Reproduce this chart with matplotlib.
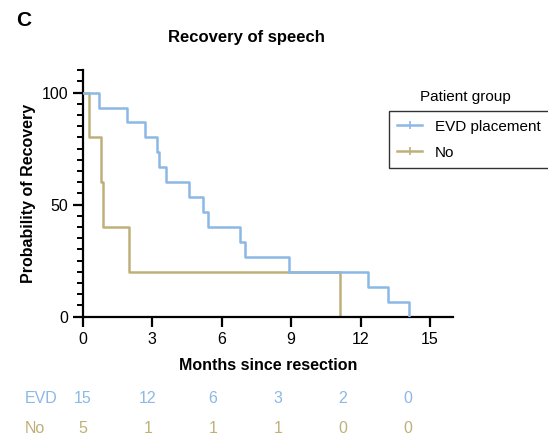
import matplotlib
matplotlib.use("Agg")
import matplotlib.pyplot as plt
from matplotlib.lines import Line2D
from matplotlib.ticker import MultipleLocator

plt.rcParams['font.family'] = ['Liberation Sans', 'DejaVu Sans']

# Kaplan-Meier steps (months, % recovered)
evd_t = [0, 0.70, 1.90, 2.69, 3.20, 3.28, 3.60, 4.58, 5.21, 5.39, 6.81, 6.99, 8.90, 12.30, 13.20, 14.09]
evd_s = [100, 93.3, 86.7, 80, 73.3, 66.7, 60, 53.3, 46.7, 40, 33.3, 26.7, 20, 13.3, 6.7, 0]
no_t = [0, 0.29, 0.79, 0.86, 2.00, 11.09]
no_s = [100, 80, 60, 40, 20, 0]

# number at risk table
risk_times = [0, 3, 6, 9, 12, 15]
evd_risk = [15, 12, 6, 3, 2, 0]
no_risk = [5, 1, 1, 1, 0, 0]

blue = '#8cb8e6'
khaki = '#bfb07a'

fig = plt.figure(figsize=(5.48, 4.36), dpi=100)
ax = fig.add_axes([0.151, 0.274, 0.676, 0.565])

ax.step(evd_t, evd_s, where='post', color=blue, lw=1.8, zorder=3)
ax.step(no_t, no_s, where='post', color=khaki, lw=1.8, zorder=2)

ax.set_xlim(0, 16)
ax.set_ylim(0, 110)
ax.set_xticks(risk_times)
ax.set_yticks([0, 50, 100])
ax.yaxis.set_minor_locator(MultipleLocator(5))
for s in ['top', 'right']:
    ax.spines[s].set_visible(False)
for s in ['left', 'bottom']:
    ax.spines[s].set_linewidth(1.6)
ax.tick_params(which='major', length=7, width=1.6, labelsize=11.5, direction='out')
ax.tick_params(which='minor', length=4.5, width=1.4)
ax.tick_params(axis='x', pad=4)

ax.set_xlabel('Months since resection', fontsize=11.5, fontweight='bold', labelpad=8)
ax.set_ylabel('Probability of Recovery', fontsize=11.5, fontweight='bold', labelpad=4)
fig.text(0.45, 0.915, 'Recovery of speech', ha='center', va='center',
         fontsize=12, fontweight='bold')
fig.text(0.03, 0.952, 'C', ha='left', va='center', fontsize=15, fontweight='bold')

handles = [Line2D([], [], color=blue, lw=1.8, marker='|', markersize=6, markeredgewidth=1.2),
           Line2D([], [], color=khaki, lw=1.8, marker='|', markersize=6, markeredgewidth=1.2)]
leg = fig.legend(handles, ['EVD placement', 'No'],
                 loc='upper left', bbox_to_anchor=(0.71, 0.745), frameon=True,
                 fancybox=False, edgecolor='black', fontsize=11,
                 handlelength=1.6, handletextpad=0.85, borderpad=0.5,
                 labelspacing=0.8, borderaxespad=0)
leg.get_frame().set_linewidth(1.0)
leg._legend_box.pad = 6
fig.text(0.849, 0.778, 'Patient group', ha='center', va='center', fontsize=11)

# number at risk rows
x_step = 0.937
for i, t in enumerate(risk_times):
    xd = ax.transData.transform((t * x_step, 0))[0] / fig.bbox.width
    fig.text(xd, 0.087, str(evd_risk[i]), ha='center', va='center', color=blue, fontsize=11.5)
    fig.text(xd, 0.018, str(no_risk[i]), ha='center', va='center', color=khaki, fontsize=11.5)
fig.text(0.045, 0.087, 'EVD', ha='left', va='center', color=blue, fontsize=11.5)
fig.text(0.045, 0.018, 'No', ha='left', va='center', color=khaki, fontsize=11.5)

fig.savefig('out.png', dpi=100)
